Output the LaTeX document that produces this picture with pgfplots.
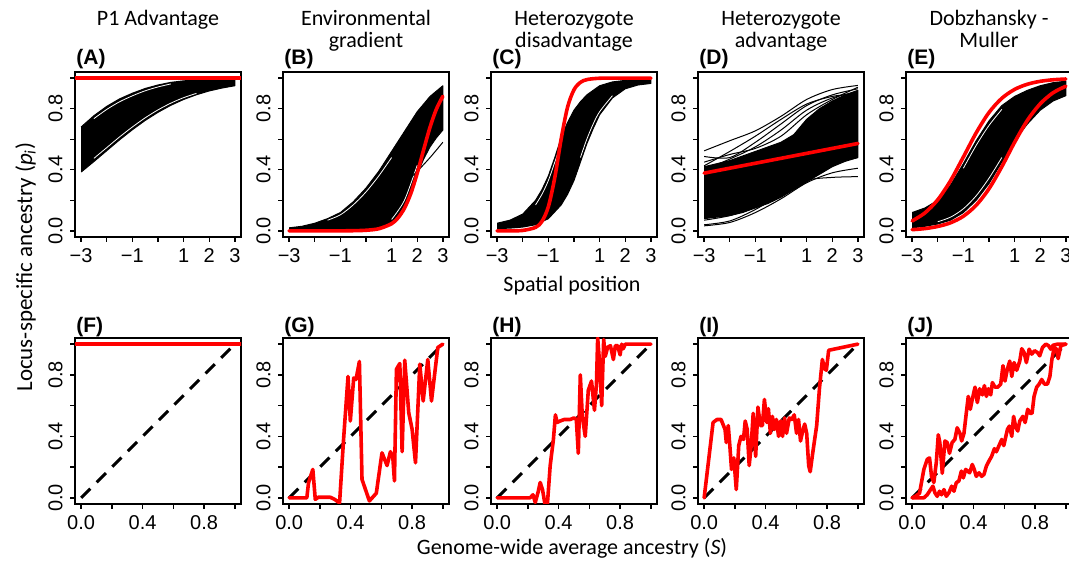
\documentclass[border=0pt]{standalone}
\usepackage{fontspec}
\setmainfont{Carlito}
\newfontfamily\arial{Liberation Sans}
\usepackage{pgfplots}
\pgfplotsset{compat=1.18}
\definecolor{rred}{RGB}{255,0,0}

\pgfplotsset{
  rpanel/.style={
    scale only axis, width=83pt, height=82.5pt, anchor=south west,
    ymin=-0.04, ymax=1.04,
    axis line style={line width=0.7pt},
    tick style={black, line width=0.7pt},
    tick align=outside, major tick length=2.5pt,
    xtick pos=bottom, ytick pos=left,
    ytick={0,0.2,0.4,0.6,0.8,1},
    yticklabels={0.0,,0.4,,0.8,},
    tick label style={font=\arial\fontsize{10}{12}\selectfont, inner sep=0pt},
    yticklabel style={rotate=90, anchor=south},
    xticklabel style={anchor=north},
    xticklabel shift=3pt, yticklabel shift=3.5pt,
    no markers,
  },
  toprow/.style={rpanel, xmin=-3.24, xmax=3.24,
    xtick={-3,-2,-1,0,1,2,3}, xticklabels={−3,,−1,,1,2,3}},
  botrow/.style={rpanel, height=83pt, xmin=-0.04, xmax=1.04,
    xtick={0,0.2,0.4,0.6,0.8,1}, xticklabels={0.0,,0.4,,0.8,}},
  rl/.style={rred, line width=1.8pt, line join=round, line cap=round},
  bl/.style={black, line width=0.5pt},
  wl/.style={white, line width=0.4pt},
  band/.style={fill=black, draw=black, line width=0.5pt, line join=round},
  dl/.style={black, line width=1.5pt, dash pattern=on 6.5pt off 4.5pt},
}

\newcommand\ttl{\fontsize{11}{13}\selectfont}
\newcommand\pnl{\arial\bfseries\fontsize{10.5}{12}\selectfont}

\begin{document}
\begin{tikzpicture}[x=0.5pt, y=0.5pt]
\useasboundingbox (0,0) rectangle (1069,566);

% ---------- top row: clines against spatial position ----------
% each band: upper edge left to right, then lower edge right to left
\begin{axis}[toprow, at={(37.5pt,164.5pt)}]
  \addplot[band] coordinates {
    (-3,0.680)(-2.5,0.754)(-2,0.815)(-1.5,0.864)(-1,0.901)(-0.5,0.932)(0,0.955)
    (0.5,0.972)(1,0.982)(1.5,0.988)(2,0.992)(2.5,0.994)(3,0.996)
    (3,0.950)(2.5,0.935)(2,0.916)(1.5,0.891)(1,0.860)(0.5,0.822)(0,0.776)
    (-0.5,0.723)(-1,0.662)(-1.5,0.596)(-2,0.525)(-2.5,0.454)(-3,0.385)};
  \addplot[wl, smooth] coordinates {
    (-2.5,0.735)(-2,0.795)(-1.5,0.845)(-1,0.884)(-0.5,0.917)(0,0.942)(0.5,0.962)};
  \addplot[wl, smooth] coordinates {
    (-2.5,0.475)(-2,0.545)(-1.5,0.615)(-1,0.68)(-0.5,0.74)(0,0.792)(0.5,0.836)
    (1,0.872)(1.5,0.90)};
  \addplot[rl] coordinates {(-3.5,1)(3.5,1)};
\end{axis}

\begin{axis}[toprow, at={(141.5pt,164.5pt)}]
  \addplot[band] coordinates {
    (-3,0.02)(-2.5,0.03)(-2,0.05)(-1.5,0.08)(-1,0.12)(-0.5,0.19)(0,0.28)
    (0.5,0.39)(1,0.52)(1.5,0.65)(2,0.78)(2.5,0.88)(3,0.95)
    (3,0.66)(2.75,0.61)(2.5,0.55)(2.25,0.47)(2,0.37)(1.75,0.25)(1.5,0.15)
    (1.25,0.09)(1,0.05)(0.5,0.022)(0,0.012)(-0.5,0.008)(-1,0.005)(-1.5,0.003)
    (-2,0.002)(-2.5,0.001)(-3,0.0)};
  \addplot[wl, smooth] coordinates {
    (-1.5,0.07)(-1,0.105)(-0.5,0.17)(0,0.255)(0.5,0.36)(1,0.48)};
  \addplot[wl, smooth] coordinates {(1,0.075)(1.5,0.2)(2,0.43)};
  \addplot[bl, smooth] coordinates {
    (-3,0.01)(-2,0.03)(-1,0.07)(0,0.14)(1,0.25)(1.5,0.31)(2,0.39)(2.5,0.48)(3,0.58)};
  \addplot[rl, smooth] coordinates {
    (-3,0)(-2,0)(-1,0.0003)(-0.5,0.0012)(0,0.004)(0.5,0.014)(1,0.047)(1.25,0.085)
    (1.5,0.148)(1.75,0.245)(2,0.378)(2.25,0.531)(2.5,0.679)(2.75,0.798)(3,0.881)};
\end{axis}

\begin{axis}[toprow, at={(245.5pt,164.5pt)}]
  \addplot[band] coordinates {
    (-3,0.05)(-2.5,0.07)(-2,0.11)(-1.5,0.20)(-1.25,0.27)(-1,0.36)(-0.75,0.48)
    (-0.5,0.61)(-0.25,0.71)(0,0.79)(0.25,0.845)(0.5,0.89)(1,0.95)(1.5,0.975)
    (2,0.985)(2.5,0.99)(3,0.993)
    (3,0.965)(2.5,0.955)(2,0.93)(1.5,0.87)(1,0.76)(0.75,0.67)(0.5,0.57)
    (0.25,0.45)(0,0.33)(-0.25,0.24)(-0.5,0.17)(-1,0.08)(-1.5,0.04)(-2,0.025)
    (-2.5,0.018)(-3,0.015)};
  \addplot[wl, smooth] coordinates {
    (-1.5,0.17)(-1.25,0.24)(-1,0.33)(-0.75,0.45)(-0.5,0.575)};
  \addplot[wl, smooth] coordinates {
    (0.25,0.48)(0.5,0.6)(0.75,0.7)(1,0.78)(1.5,0.885)};
  \addplot[rl, smooth] coordinates {
    (-3,0)(-2.5,0.0003)(-2,0.003)(-1.5,0.023)(-1.25,0.062)(-1,0.159)(-0.75,0.349)
    (-0.5,0.603)(-0.25,0.811)(0,0.924)(0.25,0.972)(0.5,0.990)(1,0.999)(2,1)(3,1)};
\end{axis}

\begin{axis}[toprow, at={(349pt,164.5pt)}]
  \addplot[band] coordinates {
    (-3,0.42)(-2.5,0.44)(-2,0.46)(-1.5,0.49)(-1,0.52)(-0.5,0.55)(0,0.58)
    (0.5,0.63)(1,0.73)(1.5,0.80)(2,0.85)(2.5,0.89)(3,0.92)
    (3,0.48)(2.5,0.455)(2,0.42)(1.5,0.37)(1,0.32)(0.5,0.27)(0,0.22)
    (-0.5,0.18)(-1,0.15)(-1.5,0.12)(-2,0.10)(-2.5,0.09)(-3,0.08)};
  \addplot[bl, smooth] coordinates {(-3,0.524)(-2,0.59)(-1,0.655)(0,0.75)(1,0.86)(2,0.925)(3,0.952)};
  \addplot[bl, smooth] coordinates {(-3,0.487)(-2,0.48)(-1,0.58)(0,0.70)(1,0.82)(2,0.89)(3,0.93)};
  \addplot[bl, smooth] coordinates {(-3,0.426)(-2,0.52)(-1,0.62)(0,0.73)(1,0.83)(2,0.88)(3,0.90)};
  \addplot[bl, smooth] coordinates {(-3,0.40)(-2,0.47)(-1,0.55)(0,0.66)(1,0.79)(2,0.87)(3,0.91)};
  \addplot[bl, smooth] coordinates {(-3,0.45)(-2,0.50)(-1,0.54)(0,0.62)(1,0.76)(2,0.86)(3,0.94)};
  \addplot[bl, smooth] coordinates {(-3,0.033)(-2,0.055)(-1,0.12)(0,0.21)(1,0.315)(2,0.38)(3,0.41)};
  \addplot[bl, smooth] coordinates {(-3,0.04)(-2,0.065)(-1,0.14)(0,0.24)(1,0.33)(2,0.35)(3,0.355)};
  \addplot[bl, smooth] coordinates {(-3,0.07)(-2,0.10)(-1,0.16)(0,0.27)(1,0.38)(2,0.44)(3,0.48)};
  \addplot[bl, smooth] coordinates {(-3,0.12)(-2,0.16)(-1,0.21)(0,0.31)(1,0.36)(2,0.43)(3,0.50)};
  \addplot[bl, smooth] coordinates {(-3,0.20)(-2,0.22)(-1,0.27)(0,0.33)(1,0.40)(2,0.48)(3,0.53)};
  \addplot[rl] coordinates {(-3,0.378)(0,0.475)(3,0.572)};
\end{axis}

\begin{axis}[toprow, at={(453pt,164.5pt)}]
  \addplot[band] coordinates {
    (-3,0.12)(-2.5,0.15)(-2,0.20)(-1.5,0.30)(-1,0.44)(-0.5,0.59)(0,0.72)
    (0.5,0.82)(1,0.88)(1.5,0.92)(2,0.95)(2.5,0.97)(3,0.98)
    (3,0.885)(2.5,0.85)(2,0.79)(1.5,0.70)(1,0.59)(0.5,0.45)(0,0.31)
    (-0.5,0.20)(-1,0.12)(-1.5,0.07)(-2,0.045)(-2.5,0.03)(-3,0.02)};
  \addplot[wl, smooth] coordinates {
    (-2,0.06)(-1.5,0.09)(-1,0.145)(-0.5,0.23)(0,0.345)(0.5,0.48)};
  \addplot[wl, smooth] coordinates {(-1,0.41)(-0.5,0.56)(0,0.69)(0.5,0.795)};
  \addplot[rl, smooth] coordinates {
    (-3,0.065)(-2.5,0.118)(-2,0.204)(-1.5,0.329)(-1,0.484)(-0.5,0.642)(0,0.775)
    (0.5,0.868)(1,0.926)(1.5,0.960)(2,0.979)(2.5,0.989)(3,0.994)};
  \addplot[rl, smooth] coordinates {
    (-3,0.008)(-2.5,0.015)(-2,0.029)(-1.5,0.053)(-1,0.096)(-0.5,0.168)(0,0.276)
    (0.5,0.420)(1,0.580)(1.5,0.724)(2,0.832)(2.5,0.904)(3,0.947)};
\end{axis}

% ---------- bottom row: locus ancestry against genome-wide ancestry ----------
\begin{axis}[botrow, at={(37.5pt,31pt)}]
  \addplot[dl] coordinates {(0,0)(1,1)};
  \addplot[rl] coordinates {(-0.1,1)(1.1,1)};
\end{axis}

\begin{axis}[botrow, at={(141.5pt,31pt)}]
  \addplot[dl] coordinates {(0,0)(1,1)};
  \addplot[rl] coordinates {
    (0,0)(0.115,0)(0.126,0.098)(0.154,0.185)(0.17,-0.01)(0.19,0.004)(0.267,0.004)
    (0.296,-0.01)(0.328,-0.033)(0.354,0.38)(0.383,0.79)(0.398,0.50)(0.42,0.78)
    (0.435,0.77)(0.457,0.887)(0.474,0.12)(0.522,-0.02)(0.567,0.03)(0.604,0.293)
    (0.637,0.21)(0.659,0.30)(0.674,0.27)(0.685,0.11)(0.698,0.837)(0.72,0.874)
    (0.735,0.30)(0.752,0.896)(0.778,0.554)(0.80,0.446)(0.822,0.228)(0.85,0.87)
    (0.872,0.63)(0.902,0.90)(0.926,0.63)(0.967,0.978)(1.0,1.0)};
\end{axis}

\begin{axis}[botrow, at={(245.5pt,31pt)}]
  \addplot[dl] coordinates {(0,0)(1,1)};
  \addplot[rl] coordinates {
    (0,0)(0.214,0)(0.233,0.02)(0.248,-0.03)(0.267,0.04)(0.28,0.10)(0.295,0.054)
    (0.311,-0.04)(0.327,-0.04)(0.345,0.21)(0.366,0.38)(0.379,0.54)(0.39,0.49)
    (0.41,0.50)(0.437,0.51)(0.476,0.51)(0.50,0.52)(0.515,0.51)(0.528,0.29)
    (0.541,0.80)(0.554,0.53)(0.573,0.40)(0.593,0.70)(0.614,0.76)(0.633,0.57)
    (0.646,0.74)(0.654,1.04)(0.667,0.87)(0.68,0.60)(0.693,1.03)(0.703,0.92)
    (0.719,0.98)(0.737,0.99)(0.756,0.90)(0.769,0.99)(0.784,0.99)(0.80,0.93)
    (0.81,1.0)(0.82,0.97)(0.834,1.0)(1,1)};
\end{axis}

\begin{axis}[botrow, at={(349pt,31pt)}]
  \addplot[dl] coordinates {(0,0)(1,1)};
  \addplot[rl] coordinates {
    (0,0)(0.058,0.49)(0.084,0.51)(0.11,0.51)(0.136,0.445)(0.144,0.36)(0.157,0.47)
    (0.167,0.34)(0.178,0.185)(0.193,0.26)(0.209,0.054)(0.225,0.34)(0.24,0.40)
    (0.256,0.38)(0.267,0.50)(0.28,0.445)(0.293,0.21)(0.306,0.34)(0.319,0.55)
    (0.335,0.27)(0.35,0.59)(0.366,0.47)(0.379,0.47)(0.392,0.64)(0.408,0.49)
    (0.418,0.58)(0.431,0.42)(0.444,0.53)(0.457,0.445)(0.47,0.51)(0.484,0.40)
    (0.497,0.50)(0.51,0.40)(0.523,0.52)(0.536,0.42)(0.554,0.52)(0.57,0.51)
    (0.586,0.54)(0.601,0.42)(0.614,0.51)(0.627,0.37)(0.641,0.435)(0.654,0.48)
    (0.667,0.42)(0.68,0.21)(0.69,0.17)(0.706,0.29)(0.719,0.38)(0.732,0.47)
    (0.75,0.71)(0.769,0.90)(0.784,0.84)(0.795,0.83)(0.81,0.96)(1,1)};
\end{axis}

\begin{axis}[botrow, at={(453pt,31pt)}]
  \addplot[dl] coordinates {(0,0)(1,1)};
  \addplot[rl] coordinates {
    (0,0)(0.02,0.01)(0.048,0.03)(0.076,0.185)(0.098,0.25)(0.113,0.26)(0.126,0.14)
    (0.141,0.10)(0.157,0.23)(0.17,0.41)(0.18,0.36)(0.196,0.16)(0.213,0.37)
    (0.228,0.36)(0.243,0.29)(0.26,0.36)(0.278,0.38)(0.293,0.456)(0.311,0.42)
    (0.322,0.37)(0.337,0.42)(0.352,0.55)(0.365,0.66)(0.378,0.576)(0.391,0.64)
    (0.409,0.72)(0.424,0.62)(0.439,0.71)(0.457,0.67)(0.47,0.73)(0.483,0.66)
    (0.496,0.71)(0.511,0.67)(0.522,0.75)(0.539,0.72)(0.557,0.72)(0.576,0.74)
    (0.591,0.86)(0.604,0.76)(0.62,0.84)(0.635,0.89)(0.648,0.79)(0.663,0.88)
    (0.68,0.83)(0.70,0.89)(0.713,0.97)(0.728,0.946)(0.743,0.88)(0.761,0.967)
    (0.778,0.935)(0.796,0.957)(0.815,0.946)(0.83,0.924)(0.848,0.978)(0.87,1.0)
    (0.887,0.99)(0.902,0.967)(0.917,0.993)(0.946,1.0)(0.967,1.0)(1,1)};
  \addplot[rl] coordinates {
    (0,0)(0.076,0)(0.098,0.02)(0.12,0.054)(0.135,0.076)(0.148,0.033)(0.163,0.01)
    (0.178,0.043)(0.191,0.02)(0.207,0.054)(0.222,0.01)(0.239,0.033)(0.257,0.076)
    (0.272,0.043)(0.287,0.098)(0.304,0.11)(0.32,0.174)(0.333,0.13)(0.348,0.185)
    (0.361,0.174)(0.374,0.163)(0.391,0.217)(0.404,0.185)(0.417,0.14)(0.435,0.163)
    (0.452,0.14)(0.467,0.152)(0.483,0.207)(0.50,0.24)(0.517,0.27)(0.535,0.32)
    (0.548,0.30)(0.565,0.34)(0.583,0.38)(0.596,0.34)(0.62,0.446)(0.633,0.467)
    (0.648,0.40)(0.66,0.53)(0.674,0.46)(0.687,0.435)(0.70,0.50)(0.72,0.53)
    (0.735,0.49)(0.752,0.576)(0.767,0.55)(0.78,0.55)(0.793,0.66)(0.81,0.72)
    (0.826,0.74)(0.843,0.77)(0.861,0.74)(0.88,0.74)(0.896,0.79)(0.909,0.90)
    (0.924,0.978)(0.937,0.97)(0.95,0.906)(0.967,0.99)(1,1)};
\end{axis}

% ---------- titles and panel letters ----------
\node[anchor=base, font=\ttl] at (158,540) {P1 Advantage};
\node[anchor=base, font=\ttl] at (366,540) {Environmental};
\node[anchor=base, font=\ttl] at (366,518) {gradient};
\node[anchor=base, font=\ttl] at (574,540) {Heterozygote};
\node[anchor=base, font=\ttl] at (574,518) {disadvantage};
\node[anchor=base, font=\ttl] at (781,540) {Heterozygote};
\node[anchor=base, font=\ttl] at (781,518) {advantage};
\node[anchor=base, font=\ttl] at (989,540) {Dobzhansky -};
\node[anchor=base, font=\ttl] at (989,518) {Muller};

\foreach \lx/\lt in {76/A,284/B,492/C,699/D,907/E}
  \node[anchor=base west, inner sep=0pt, font=\pnl] at (\lx,501) {(\lt)};
\foreach \lx/\lt in {76/F,284/G,492/H,699/I,907/J}
  \node[anchor=base west, inner sep=0pt, font=\pnl] at (\lx,233) {(\lt)};

\node[anchor=base, font=\ttl] at (572,274) {Spatial position};
\node[anchor=base, font=\ttl] at (572,11) {Genome-wide average ancestry (\textit{S})};
\node[anchor=base, rotate=90, font=\fontsize{11.5}{13}\selectfont] at (32,299)
  {Locus-specific ancestry (\textit{p}\textsubscript{\textit{i}})};
\end{tikzpicture}
\end{document}
